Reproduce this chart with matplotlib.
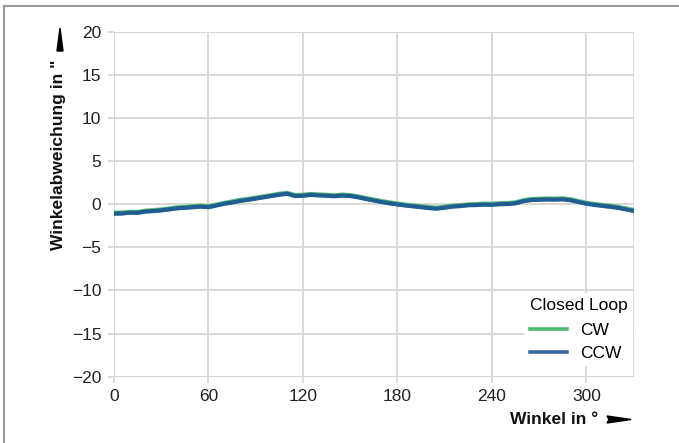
import matplotlib.pyplot as plt
from matplotlib.lines import Line2D
from matplotlib.patches import Polygon

plt.rcParams['font.family'] = ['Liberation Sans', 'DejaVu Sans']

# angle in degrees, deviation in arc seconds
winkel = [0, 5, 10, 15, 20, 25, 30, 35, 40, 45, 50, 55, 60, 65, 70, 75, 80, 85,
          90, 95, 100, 105, 110, 115, 120, 125, 130, 135, 140, 145, 150, 155,
          160, 165, 170, 175, 180, 185, 190, 195, 200, 205, 210, 215, 220, 225,
          230, 235, 240, 245, 250, 255, 260, 265, 270, 275, 280, 285, 290, 295,
          300, 305, 310, 315, 320, 325, 329]
ccw = [-1.10, -1.08, -0.98, -1.00, -0.85, -0.80, -0.72, -0.60, -0.48, -0.42,
       -0.35, -0.28, -0.35, -0.15, 0.05, 0.20, 0.38, 0.50, 0.65, 0.80, 0.95,
       1.10, 1.20, 0.95, 0.98, 1.08, 1.02, 0.98, 0.92, 1.00, 0.95, 0.80, 0.60,
       0.42, 0.25, 0.10, -0.03, -0.15, -0.25, -0.35, -0.45, -0.52, -0.40, -0.28,
       -0.22, -0.12, -0.10, -0.05, -0.07, 0.00, 0.02, 0.10, 0.35, 0.48, 0.52,
       0.55, 0.53, 0.56, 0.45, 0.25, 0.05, -0.08, -0.20, -0.30, -0.42, -0.60,
       -0.75]
cw = [-1.02, -1.00, -0.92, -0.93, -0.78, -0.72, -0.64, -0.53, -0.40, -0.35,
      -0.27, -0.21, -0.27, -0.08, 0.12, 0.28, 0.45, 0.58, 0.72, 0.88, 1.02,
      1.18, 1.28, 1.03, 1.06, 1.15, 1.10, 1.05, 1.00, 1.08, 1.02, 0.88, 0.68,
      0.50, 0.32, 0.18, 0.05, -0.07, -0.18, -0.27, -0.37, -0.44, -0.32, -0.20,
      -0.14, -0.05, -0.02, 0.03, 0.01, 0.08, 0.10, 0.18, 0.43, 0.56, 0.60,
      0.63, 0.61, 0.64, 0.53, 0.33, 0.13, 0.00, -0.12, -0.22, -0.34, -0.52,
      -0.66]

xticks = [0, 60, 120, 180, 240, 300]
yticks = [-20, -15, -10, -5, 0, 5, 10, 15, 20]

fig = plt.figure(figsize=(6.79, 4.43), dpi=100)
W, H = 679, 443
x0, x1, y0, y1 = 114, 633.7, 31.7, 376.7
ax = fig.add_axes([x0 / W, 1 - y1 / H, (x1 - x0) / W, (y1 - y0) / H])

grid_c = '#d9d4d0'
ax.plot(winkel, cw, color='#4cbb6c', lw=3.4, label='CW', zorder=3)
ax.plot(winkel, ccw, color='#1f5d93', lw=3.0, label='CCW', zorder=4)

ax.set_xlim(0, 330)
ax.set_ylim(-20, 20)
ax.set_xticks(xticks)
ax.set_yticks(yticks)
ax.set_yticklabels(['\u221220', '\u221215', '\u221210', '\u22125', '0', '5', '10', '15', '20'])
ax.grid(True, color=grid_c, lw=1.3)
for s in ax.spines.values():
    s.set_visible(False)
ax.axvline(330, color=grid_c, lw=1.3)
ax.axhline(-20, color=grid_c, lw=1.3)
ax.axhline(20, color=grid_c, lw=1.3)
ax.tick_params(axis='both', length=4, color=grid_c, width=1.2, labelsize=12.5,
               labelcolor='#222222')
ax.tick_params(axis='y', pad=5)
ax.tick_params(axis='x', pad=5)

h_cw = Line2D([], [], color='#4cbb6c', lw=2.6)
h_ccw = Line2D([], [], color='#3a6aa0', lw=2.6)
leg = ax.legend([h_cw, h_ccw], ['CW', 'CCW'], title='Closed Loop', loc='upper left',
                bbox_to_anchor=((516 - x0) / (x1 - x0), (y1 - 284) / (y1 - y0)),
                frameon=True, fontsize=12.5, title_fontsize=12.5, handlelength=2.15,
                borderpad=0.3, labelspacing=0.45, handletextpad=0.75)
leg.get_frame().set_edgecolor('none')
leg.get_frame().set_facecolor('white')
leg.get_frame().set_alpha(1)
leg._legend_box.align = 'left'
leg._legend_box.sep = 7

fig.text(58 / W, 1 - 60 / H, 'Winkelabweichung in "', rotation=90, ha='center',
         va='top', fontsize=12.5, fontweight='bold', color='#111111')
fig.text(598 / W, 1 - 420 / H, 'Winkel in °', ha='right', va='center',
         fontsize=12.5, fontweight='bold', color='#111111')

# arrows
up = Polygon([[57 / W, 1 - 51 / H], [63 / W, 1 - 51 / H], [60 / W, 1 - 28 / H]],
             closed=True, color='black', transform=fig.transFigure)
right = Polygon([[607 / W, 1 - 416 / H], [609 / W, 1 - 419.5 / H], [607 / W, 1 - 423 / H],
                 [631 / W, 1 - 419.5 / H]], closed=True, color='black',
                transform=fig.transFigure)
fig.add_artist(up)
fig.add_artist(right)

# outer frame
fig.add_artist(Line2D([4 / W, 1], [1 - 6 / H, 1 - 6 / H], color='#999999', lw=1.5,
                      transform=fig.transFigure))
fig.add_artist(Line2D([4 / W, 4 / W], [0, 1 - 6 / H], color='#999999', lw=1.5,
                      transform=fig.transFigure))

fig.savefig('out.png', dpi=100)
